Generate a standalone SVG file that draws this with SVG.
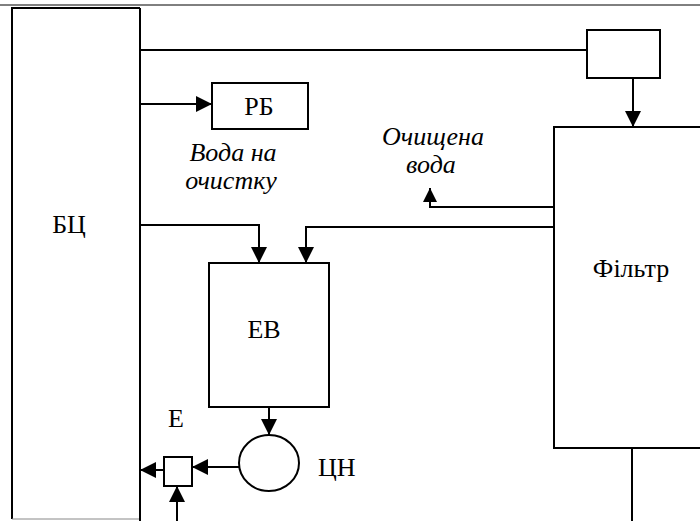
<svg xmlns="http://www.w3.org/2000/svg" width="700" height="521" viewBox="0 0 700 521">
<style>
.box{fill:#fff;stroke:#000;stroke-width:2}
.ln{fill:none;stroke:#000;stroke-width:2}
.t{font-family:"Liberation Serif","Times New Roman",serif;font-size:26px;fill:#000}
.i{font-family:"Liberation Serif","Times New Roman",serif;font-size:26px;font-style:italic;fill:#000}
</style>
<defs>
<marker id="ahb" viewBox="0 0 10 10" refX="10" refY="5" markerWidth="16" markerHeight="16" markerUnits="userSpaceOnUse" orient="auto">
<path d="M0,0 L10,5 L0,10 Z" fill="#000"/>
</marker>
<marker id="ahs" viewBox="0 0 10 10" refX="10" refY="5" markerWidth="14" markerHeight="14" markerUnits="userSpaceOnUse" orient="auto">
<path d="M0,0 L10,5 L0,10 Z" fill="#000"/>
</marker>
</defs>
<rect width="700" height="521" fill="#fff"/>
<line x1="0" y1="5" x2="700" y2="5" stroke="#000" stroke-width="1"/>
<g id="bc">
<path d="M140,8 L12,8 L12,519" class="ln"/>
<line x1="12" y1="519" x2="140" y2="519" stroke="#888" stroke-width="1"/>
<line x1="140" y1="8" x2="140" y2="521" class="ln"/>
<text x="69" y="233" class="t" text-anchor="middle">БЦ</text>
</g>
<g id="rb">
<rect x="212" y="83" width="96" height="46" class="box"/>
<text x="259" y="115" class="t" text-anchor="middle">РБ</text>
</g>
<g id="valve">
<rect x="587" y="30" width="73" height="48" class="box"/>
</g>
<g id="filter">
<path d="M702,127 L554,127 L554,448 L702,448" class="box"/>
<text x="631" y="277" class="t" text-anchor="middle">Фільтр</text>
</g>
<g id="ev">
<rect x="209" y="263" width="120" height="144" class="box"/>
<text x="264" y="338" class="t" text-anchor="middle">ЕВ</text>
</g>
<g id="pump">
<ellipse cx="269" cy="463" rx="30" ry="28" class="box"/>
<text x="318" y="476" class="t">ЦН</text>
</g>
<g id="e">
<rect x="164" y="457" width="28" height="29" class="box"/>
<text x="176" y="427" class="t" text-anchor="middle">Е</text>
</g>
<g id="labels">
<text x="233" y="161" class="i" text-anchor="middle">Вода на</text>
<text x="231" y="189" class="i" text-anchor="middle">очистку</text>
<text x="433" y="145" class="i" text-anchor="middle">Очищена</text>
<text x="431" y="173" class="i" text-anchor="middle">вода</text>
</g>
<g id="connectors">
<line x1="140" y1="50" x2="587" y2="50" class="ln"/>
<line x1="633" y1="78" x2="633" y2="127" class="ln" marker-end="url(#ahb)"/>
<line x1="140" y1="104" x2="212" y2="104" class="ln" marker-end="url(#ahb)"/>
<polyline points="553,207 430,207 430,188" class="ln" marker-end="url(#ahs)" stroke-width="3"/>
<polyline points="140,225 259,225 259,263" class="ln" marker-end="url(#ahb)"/>
<polyline points="553,227 306,227 306,263" class="ln" marker-end="url(#ahb)"/>
<line x1="269" y1="407" x2="269" y2="435" class="ln" marker-end="url(#ahb)"/>
<line x1="239" y1="467" x2="192" y2="467" class="ln" marker-end="url(#ahb)"/>
<line x1="164" y1="470" x2="140" y2="470" class="ln" marker-end="url(#ahb)"/>
<line x1="177" y1="521" x2="177" y2="486" class="ln" marker-end="url(#ahb)"/>
<line x1="632" y1="448" x2="632" y2="521" class="ln"/>
</g>
</svg>
